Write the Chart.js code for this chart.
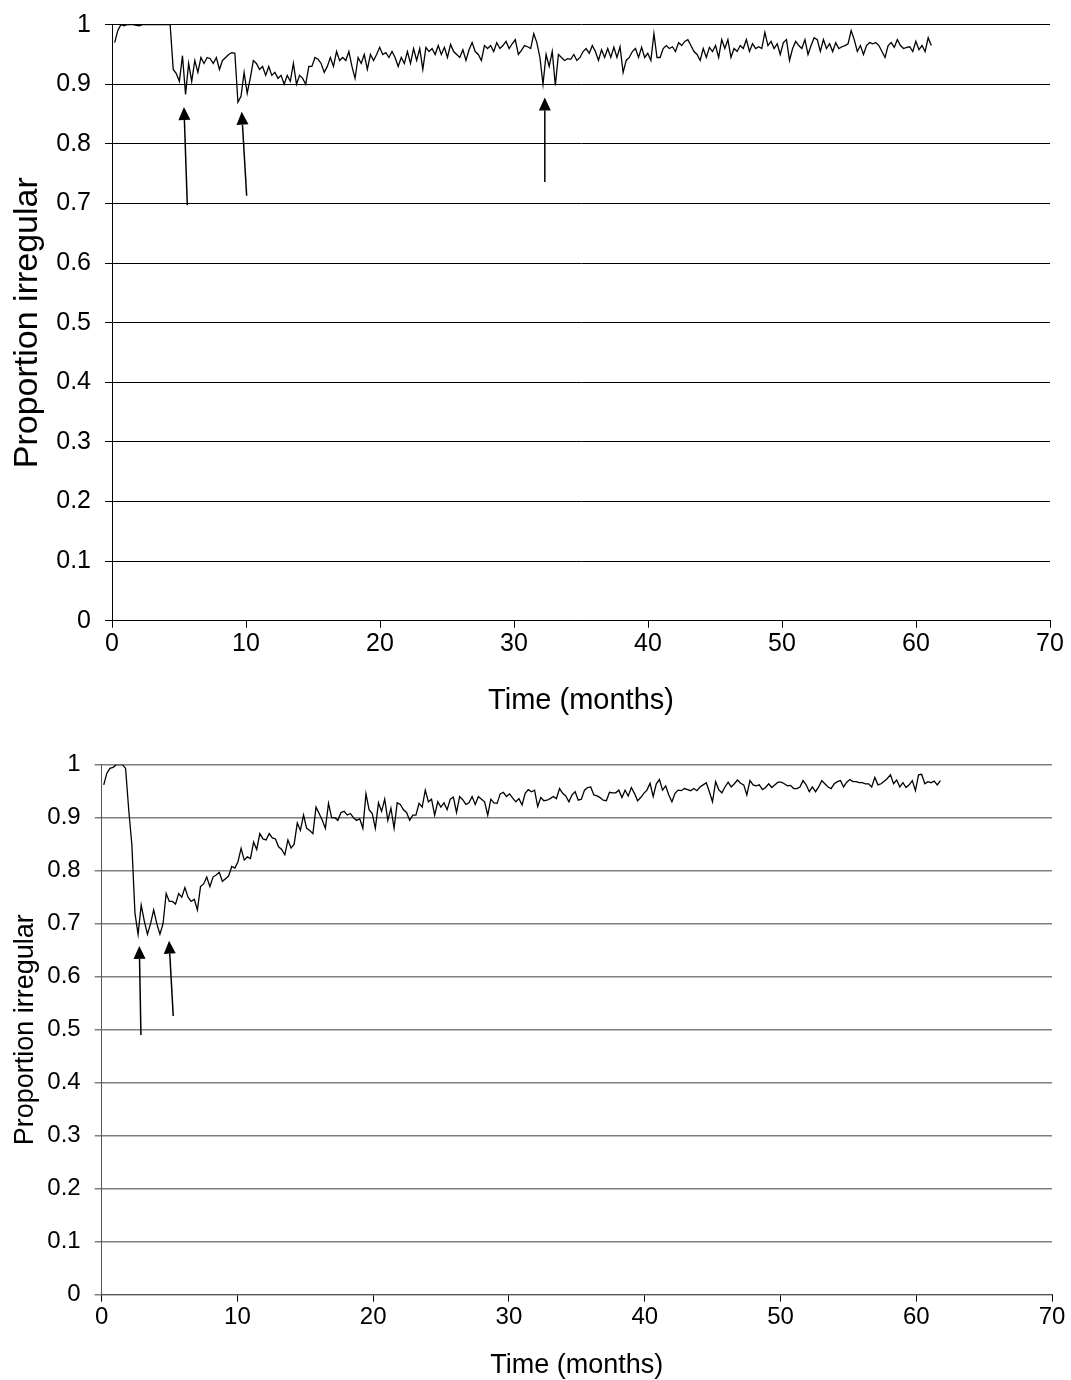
<!DOCTYPE html>
<html><head><meta charset="utf-8">
<script src="https://cdn.jsdelivr.net/npm/chart.js@4.4.0/dist/chart.umd.min.js"></script>
<style>
body{margin:0;background:#fff;width:1071px;height:1380px;overflow:hidden;position:relative}
canvas{position:absolute;left:0}
</style></head>
<body>
<canvas id="c1" width="1071" height="718" style="top:0px"></canvas>
<canvas id="c2" width="1071" height="652" style="top:730px"></canvas>
<script>
// time step between observations (one week, in months)
const WEEK = 7 / 30.44;
const topStart = 0.2;
const bottomStart = 0.15;

const xTickValues = [0, 10, 20, 30, 40, 50, 60, 70];
const yTickLabels = ['0', '0.1', '0.2', '0.3', '0.4', '0.5', '0.6', '0.7', '0.8', '0.9', '1'];
const xTitle = 'Time (months)';
const yTitle = 'Proportion irregular';

const topValues = [
0.97,0.99,1.0,0.998,1.0,1.0,1.0,0.999,0.998,1.0,1.0,1.0,1.0,1.0,1.0,1.0,1.0,1.0,1.0,
0.925,0.918,0.905,0.948,0.883,0.935,0.905,0.94,0.92,0.945,0.935,0.945,0.943,0.935,0.945,0.925,0.94,0.945,0.95,0.953,0.952,
0.87,0.88,0.92,0.885,0.91,0.94,0.935,0.925,0.93,0.915,0.93,0.915,0.92,0.91,0.915,0.9,0.915,0.905,0.935,0.90,
0.915,0.91,0.9,0.93,0.93,0.945,0.942,0.935,0.92,0.93,0.945,0.93,0.955,0.94,0.945,0.94,0.955,0.93,0.91,0.945,
0.935,0.95,0.925,0.95,0.94,0.95,0.962,0.95,0.953,0.945,0.955,0.945,0.93,0.945,0.935,0.955,0.935,0.96,0.94,0.96,
0.925,0.962,0.955,0.96,0.95,0.965,0.95,0.962,0.945,0.967,0.955,0.95,0.945,0.958,0.94,0.958,0.97,0.955,0.95,0.94,
0.965,0.96,0.965,0.955,0.97,0.96,0.965,0.972,0.96,0.968,0.975,0.95,0.957,0.965,0.963,
0.96,0.985,0.97,0.945,0.90,0.95,0.93,0.955,0.898,0.95,0.945,0.94,0.943,0.942,0.95,0.94,0.945,0.955,0.96,0.952,
0.965,0.955,0.94,0.958,0.945,0.96,0.945,0.962,0.945,0.963,0.92,0.94,0.945,0.955,0.96,0.945,0.962,0.945,0.952,0.94,
0.985,0.945,0.945,0.96,0.965,0.96,0.963,0.955,0.97,0.965,0.972,0.975,0.965,0.955,0.95,0.94,0.96,0.945,0.962,0.955,
0.965,0.945,0.975,0.96,0.975,0.945,0.96,0.955,0.965,0.96,0.975,0.955,0.968,0.96,0.963,0.96,0.987,0.965,0.972,0.96,
0.968,0.95,0.97,0.975,0.94,0.96,0.972,0.965,0.96,0.975,0.95,0.965,0.978,0.975,0.955,0.975,0.96,0.968,0.955,0.97,
0.96,0.963,0.965,0.968,0.99,0.975,0.955,0.965,0.95,0.965,0.97,0.968,0.97,0.965,0.955,0.945,0.965,0.97,0.962,0.975,
0.965,0.96,0.962,0.963,0.955,0.972,0.958,0.965,0.955,0.978,0.965
];

const bottomValues = [
0.962,0.984,0.993,0.995,1.0,1.0,1.0,0.993,0.915,0.85,0.72,0.68,0.735,0.705,0.68,0.70,0.726,0.70,0.68,0.70,
0.757,0.742,0.742,0.737,0.757,0.75,0.768,0.75,0.742,0.746,0.726,0.77,0.775,0.788,0.77,0.788,0.792,0.797,0.78,0.785,
0.79,0.808,0.805,0.817,0.842,0.82,0.826,0.823,0.854,0.84,0.87,0.86,0.858,0.87,0.862,0.86,0.845,0.84,0.83,0.858,
0.843,0.85,0.89,0.876,0.905,0.88,0.876,0.87,0.92,0.908,0.895,0.88,0.927,0.9,0.9,0.895,0.91,0.912,0.905,0.908,
0.9,0.895,0.898,0.88,0.945,0.915,0.908,0.88,0.928,0.912,0.935,0.895,0.918,0.88,0.928,0.925,0.915,0.91,0.895,0.905,
0.905,0.927,0.92,0.952,0.93,0.935,0.905,0.93,0.92,0.928,0.915,0.935,0.939,0.91,0.94,0.934,0.925,0.928,0.94,0.925,
0.94,0.935,0.93,0.905,0.935,0.928,0.927,0.945,0.948,0.94,0.945,0.937,0.93,
0.936,0.924,0.946,0.953,0.949,0.952,0.921,0.938,0.932,0.933,0.936,0.94,0.936,0.955,0.946,0.941,0.93,0.943,0.949,0.933,
0.935,0.952,0.957,0.958,0.943,0.941,0.938,0.933,0.932,0.948,0.947,0.947,0.952,0.938,0.952,0.941,0.957,0.946,0.932,0.938,
0.946,0.952,0.965,0.94,0.964,0.972,0.952,0.96,0.943,0.93,0.946,0.952,0.951,0.955,0.953,0.951,0.955,0.951,0.958,0.962,
0.966,0.949,0.93,0.968,0.953,0.947,0.958,0.967,0.958,0.964,0.971,0.965,0.962,0.943,0.97,0.962,0.96,0.962,0.953,0.957,
0.964,0.957,0.962,0.967,0.967,0.964,0.96,0.961,0.955,0.955,0.958,0.97,0.962,0.949,0.958,0.949,0.958,0.97,0.964,0.958,
0.955,0.964,0.968,0.97,0.958,0.967,0.972,0.968,0.968,0.966,0.966,0.964,0.964,0.958,0.976,0.962,0.964,0.969,0.974,0.981,
0.964,0.971,0.958,0.966,0.957,0.962,0.97,0.951,0.981,0.982,0.964,0.968,0.966,0.969,0.962,0.97
];

// arrows: [tailX, tailY, headX, headY] in data units
const topArrows = [
  [5.62, 0.697, 5.37, 0.862],
  [10.05, 0.713, 9.68, 0.854],
  [32.3, 0.736, 32.3, 0.878]
];
const bottomArrows = [
  [2.89, 0.49, 2.77, 0.658],
  [5.27, 0.526, 4.96, 0.668]
];

const arrowPlugin = {
  id: 'arrows',
  afterDatasetsDraw(chart, args, opts) {
    const ctx = chart.ctx, xs = chart.scales.x, ys = chart.scales.y;
    ctx.save();
    ctx.strokeStyle = '#000'; ctx.fillStyle = '#000'; ctx.lineWidth = 1.5;
    for (const a of opts.list || []) {
      const x1 = xs.getPixelForValue(a[0]), y1 = ys.getPixelForValue(a[1]);
      const x2 = xs.getPixelForValue(a[2]), y2 = ys.getPixelForValue(a[3]);
      const ang = Math.atan2(y2 - y1, x2 - x1);
      const L = 13, W = 6;
      const bx = x2 - L * Math.cos(ang), by = y2 - L * Math.sin(ang);
      ctx.beginPath(); ctx.moveTo(x1, y1); ctx.lineTo(bx, by); ctx.stroke();
      ctx.beginPath();
      ctx.moveTo(x2, y2);
      ctx.lineTo(bx - W * Math.sin(ang), by + W * Math.cos(ang));
      ctx.lineTo(bx + W * Math.sin(ang), by - W * Math.cos(ang));
      ctx.closePath(); ctx.fill();
    }
    ctx.restore();
  }
};

const FONT = 'Liberation Sans, Arial, sans-serif';

function makeChart(id, values, start, arrows, cfg) {
  const pts = values.map((v, i) => ({ x: start + i * WEEK, y: v }));
  return new Chart(document.getElementById(id), {
    type: 'line',
    data: { datasets: [{ data: pts, borderColor: '#000', borderWidth: 1.3, pointRadius: 0, tension: 0, fill: false }] },
    plugins: [arrowPlugin],
    options: {
      responsive: false, animation: false, devicePixelRatio: 1,
      layout: { padding: { top: cfg.padTop, right: cfg.padRight, bottom: 0, left: 0 } },
      plugins: { legend: { display: false }, tooltip: { enabled: false }, arrows: { list: arrows } },
      scales: {
        x: {
          type: 'linear', min: 0, max: 70,
          afterBuildTicks: s => { s.ticks = xTickValues.map(v => ({ value: v })); },
          ticks: { color: '#000', font: { family: FONT, size: cfg.tickSize }, padding: cfg.xTickPad, maxRotation: 0, autoSkip: false },
          grid: { drawOnChartArea: false, drawTicks: true, tickLength: 7, color: '#000' },
          border: { display: true, color: cfg.axisColor, width: 1 },
          title: { display: true, text: xTitle, color: '#000', font: { family: FONT, size: cfg.xTitleSize }, padding: { top: 0, bottom: 0 } },
          afterFit: s => { s.height = cfg.xHeight; s.paddingLeft = 0; s.paddingRight = 0; }
        },
        y: {
          type: 'linear', min: 0, max: 1,
          afterBuildTicks: s => { s.ticks = yTickLabels.map(t => ({ value: parseFloat(t) })); },
          ticks: { color: '#000', font: { family: FONT, size: cfg.tickSize }, padding: cfg.yTickPad, autoSkip: false,
                   callback: (v, i) => yTickLabels[i] },
          grid: { color: cfg.gridColor, lineWidth: cfg.gridWidth, tickLength: 7, drawTicks: true },
          border: { display: true, color: cfg.axisColor, width: 1 },
          title: { display: true, text: yTitle, color: '#000', font: { family: FONT, size: cfg.yTitleSize }, padding: { top: cfg.yTitlePad, bottom: 0 } },
          afterFit: s => { s.width = cfg.yWidth; s.paddingTop = 0; s.paddingBottom = 0; }
        }
      }
    }
  });
}

makeChart('c1', topValues, topStart, topArrows, {
  padTop: 24.7, padRight: 21, xHeight: 718 - 620.7, yWidth: 112,
  tickSize: 25, xTitleSize: 29, yTitleSize: 34, xTickPad: 1, yTickPad: 14, yTitlePad: 7,
  gridColor: '#000', gridWidth: 1, axisColor: '#000'
});
makeChart('c2', bottomValues, bottomStart, bottomArrows, {
  padTop: 34.7, padRight: 19, xHeight: 652 - 564.7, yWidth: 101.7,
  tickSize: 24, xTitleSize: 27, yTitleSize: 27, xTickPad: 1, yTickPad: 14, yTitlePad: 9,
  gridColor: '#7f7f7f', gridWidth: 1.5, axisColor: '#555'
});
</script>
</body></html>
